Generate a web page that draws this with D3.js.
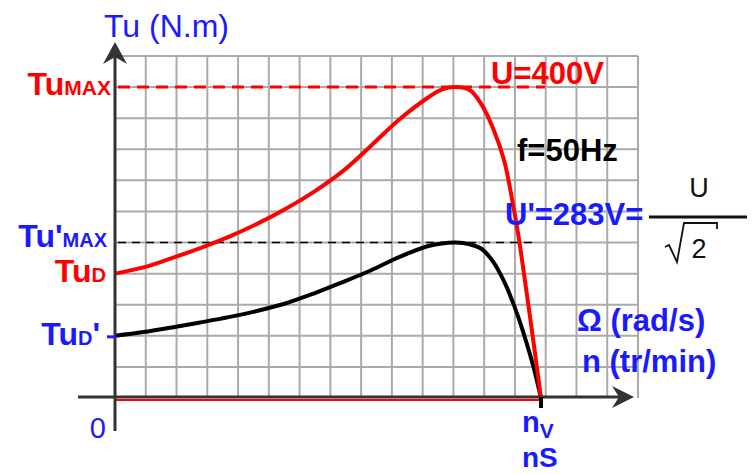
<!DOCTYPE html>
<html>
<head>
<meta charset="utf-8">
<script src="https://cdn.jsdelivr.net/npm/d3@7"></script>
<style>
  html, body { margin: 0; padding: 0; background: #fff; }
  svg { display: block; }
  text { font-family: "Liberation Sans", Arial, sans-serif; }
</style>
</head>
<body>
<svg id="chart" width="756" height="474"></svg>
<script>
// Speed n (tr/min) and useful torque Tu (N.m) for the two supply voltages
const speed    = [0, 100, 200, 300, 400, 500, 600, 700, 800, 900, 1000, 1100, 1150, 1200, 1250, 1290, 1330, 1370, 1400, 1420, 1450, 1475, 1500];
const tu400V   = [4.0, 4.2, 4.5, 4.82, 5.18, 5.6, 6.08, 6.63, 7.28, 8.1, 8.95, 9.65, 9.92, 10.0, 9.9, 9.45, 8.7, 7.65, 6.3, 5.25, 3.35, 1.7, 0];
const tu283V   = [2.0, 2.12, 2.27, 2.43, 2.6, 2.8, 3.04, 3.36, 3.72, 4.1, 4.53, 4.88, 4.97, 5.0, 4.94, 4.8, 4.4, 3.75, 3.1, 2.6, 1.75, 0.95, 0];

// Characteristic values
const tuMax      = 10;   // Tu MAX at U = 400 V
const tuMaxPrime = 5;    // Tu' MAX at U' = 283 V
const tuStart      = 4;  // Tu D
const tuStartPrime = 2;  // Tu D'
const syncSpeed  = 1500; // nS

const gridCols = 17, gridRows = 11;

const svg = d3.select("#chart");
const BLUE = "#1a1aff", RED = "#ff0000", AXIS = "#333333";

const x = d3.scaleLinear().domain([0, syncSpeed]).range([115, 541]);
const y = d3.scaleLinear().domain([0, gridRows]).range([398, 56]);
const gx = d3.scaleLinear().domain([0, gridCols]).range([115, 638]);

// Grid
const grid = svg.append("g").attr("stroke", "#aaaaaa").attr("stroke-width", 2);
grid.selectAll("line.v").data(d3.range(1, gridCols + 1)).join("line")
  .attr("x1", d => gx(d)).attr("x2", d => gx(d))
  .attr("y1", y(0)).attr("y2", y(gridRows));
grid.selectAll("line.h").data(d3.range(1, gridRows + 1)).join("line")
  .attr("x1", gx(0)).attr("x2", gx(gridCols))
  .attr("y1", d => y(d)).attr("y2", d => y(d));

// Zero-torque segment up to synchronism
svg.append("line")
  .attr("x1", x(0)).attr("x2", x(syncSpeed))
  .attr("y1", y(0) + 2).attr("y2", y(0) + 2)
  .attr("stroke", RED).attr("stroke-width", 2);

// Maximum torque guides
svg.append("line")
  .attr("x1", x(0) + 3).attr("x2", x(syncSpeed) + 4)
  .attr("y1", y(tuMax)).attr("y2", y(tuMax))
  .attr("stroke", RED).attr("stroke-width", 3).attr("stroke-dasharray", "12,7");
svg.append("line")
  .attr("x1", x(0) + 3).attr("x2", x(syncSpeed) - 7)
  .attr("y1", y(tuMaxPrime)).attr("y2", y(tuMaxPrime))
  .attr("stroke", "#000").attr("stroke-width", 1.5).attr("stroke-dasharray", "8,6");

// Torque curves
const line = d3.line().x(d => x(d[0])).y(d => y(d[1])).curve(d3.curveCatmullRom.alpha(0.5));
svg.append("path").datum(d3.zip(speed, tu283V)).attr("d", line)
  .attr("fill", "none").attr("stroke", "#000").attr("stroke-width", 4);
svg.append("path").datum(d3.zip(speed, tu400V)).attr("d", line)
  .attr("fill", "none").attr("stroke", RED).attr("stroke-width", 4);

// Axes with arrow heads
svg.append("line").attr("x1", 78).attr("x2", 622).attr("y1", y(0) - 1).attr("y2", y(0) - 1)
  .attr("stroke", AXIS).attr("stroke-width", 3);
svg.append("line").attr("x1", x(0)).attr("x2", x(0)).attr("y1", 431).attr("y2", 54)
  .attr("stroke", AXIS).attr("stroke-width", 3);
svg.append("path").attr("fill", AXIS)
  .attr("d", `M${x(0)},42 L${x(0) - 12},64 L${x(0)},57 L${x(0) + 12},64 Z`);
svg.append("path").attr("fill", AXIS)
  .attr("d", `M634,${y(0) - 1} L612,${y(0) - 12} L619,${y(0) - 1} L612,${y(0) + 10} Z`);

// Synchronous speed tick
svg.append("line").attr("x1", x(syncSpeed)).attr("x2", x(syncSpeed))
  .attr("y1", y(0) - 1).attr("y2", y(0) + 10)
  .attr("stroke", "#000").attr("stroke-width", 4);

// Starting torque marker at reduced voltage
svg.append("line").attr("x1", x(0) - 8).attr("x2", x(0) + 1)
  .attr("y1", y(tuStartPrime) + 1).attr("y2", y(tuStartPrime) + 1)
  .attr("stroke", BLUE).attr("stroke-width", 3);

// Labels
function label(parts, xPos, yPos, color, anchor) {
  const t = svg.append("text").attr("x", xPos).attr("y", yPos)
    .attr("fill", color).attr("text-anchor", anchor || "start");
  parts.forEach(p => {
    const s = t.append("tspan").text(p.t)
      .attr("font-size", p.size).attr("font-weight", p.w || "bold");
    if (p.dy) s.attr("dy", p.dy);
  });
  return t;
}

label([{ t: "Tu (N.m)", size: 32, w: "normal" }], 104, 37, BLUE);
label([{ t: "Tu", size: 32 }, { t: "MAX", size: 21 }], 111, y(tuMax) + 8, RED, "end");
label([{ t: "Tu'", size: 32 }, { t: "MAX", size: 20 }], 107, y(tuMaxPrime) + 4, BLUE, "end");
label([{ t: "Tu", size: 32 }, { t: "D", size: 20 }], 106, y(tuStart) + 8, RED, "end");
label([{ t: "Tu", size: 32 }, { t: "D", size: 20 }, { t: "'", size: 32 }], 100, y(tuStartPrime) + 9, BLUE, "end");
label([{ t: "0", size: 29, w: "normal" }], 106, 438, BLUE, "end");

label([{ t: "U=400V", size: 31 }], 491, y(tuMax) - 3, RED);
label([{ t: "f=50Hz", size: 31 }], 517, 161, "#000");
label([{ t: "U'=283V=", size: 31 }], 505, 225, BLUE);

// U / sqrt(2)
svg.append("text").attr("x", 699).attr("y", 197).attr("text-anchor", "middle")
  .attr("font-size", 27).attr("fill", "#111").text("U");
svg.append("line").attr("x1", 649).attr("x2", 747).attr("y1", 217).attr("y2", 217)
  .attr("stroke", "#111").attr("stroke-width", 3);
svg.append("path").attr("fill", "none").attr("stroke", "#111").attr("stroke-width", 1.8)
  .attr("d", "M665,247 L669,245 L677,262 L684,223 L717,223 L717,229");
svg.append("text").attr("x", 699).attr("y", 258).attr("text-anchor", "middle")
  .attr("font-size", 27).attr("fill", "#111").text("2");

label([{ t: "Ω (rad/s)", size: 31 }], 577, 331, BLUE);
label([{ t: "n (tr/min)", size: 31 }], 582, 372, BLUE);
label([{ t: "n", size: 29 }, { t: "V", size: 21, dy: 6 }], 522, 432, BLUE);
label([{ t: "nS", size: 28 }], 522, 467, BLUE);
</script>
</body>
</html>
